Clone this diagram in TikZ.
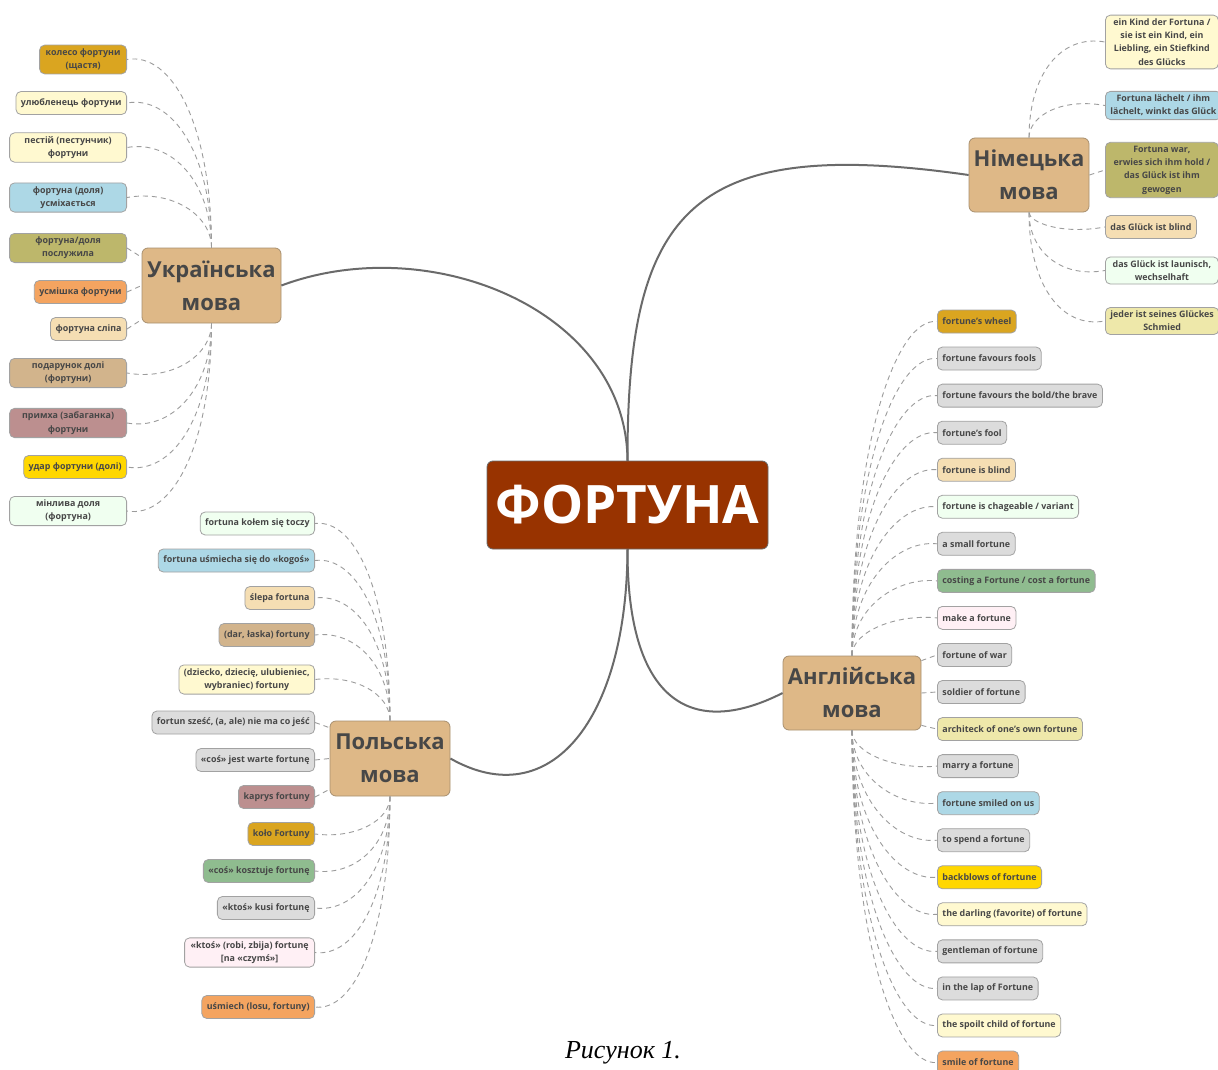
\documentclass[tikz,border=0pt]{standalone}
\usepackage{fontspec}
\setmainfont{Open Sans}
\newfontfamily\capfont{Liberation Serif}
\usetikzlibrary{calc}
\definecolor{txt}{HTML}{474747}
\definecolor{leafborder}{HTML}{A2A2A2}
\definecolor{dashgray}{HTML}{9C9C9C}
\definecolor{maingray}{HTML}{6A6A6A}
\definecolor{branchfill}{HTML}{DEB887}
\definecolor{branchborder}{HTML}{A89070}
\definecolor{centerfill}{HTML}{983300}
\definecolor{cGoldenrod}{HTML}{DAA520}
\definecolor{cLemon}{HTML}{FFF9D0}
\definecolor{cLightblue}{HTML}{ADD8E6}
\definecolor{cKhaki}{HTML}{BDB76B}
\definecolor{cSandy}{HTML}{F4A460}
\definecolor{cWheat}{HTML}{F5DEB3}
\definecolor{cTan}{HTML}{D2B48C}
\definecolor{cRosy}{HTML}{BC8F8F}
\definecolor{cGold}{HTML}{FFD700}
\definecolor{cHoney}{HTML}{F0FFF0}
\definecolor{cPaleGold}{HTML}{EEE8AA}
\definecolor{cGray}{HTML}{DCDCDC}
\definecolor{cSeaGreen}{HTML}{8FBC8F}
\definecolor{cBlush}{HTML}{FFF0F5}
\tikzset{
  leaf/.style={draw=leafborder, line width=0.8pt, rounded corners=5pt,
    font=\fontsize{8.9}{13.3}\selectfont\bfseries, text=txt, align=center,
    inner xsep=5pt, inner ysep=3.5pt, minimum height=23pt},
  branch/.style={draw=branchborder, line width=0.8pt, fill=branchfill, rounded corners=6pt,
    font=\fontsize{22}{33}\selectfont\bfseries, text=txt, align=center},
  dline/.style={draw=dashgray, line width=0.9pt, dash pattern=on 5pt off 4pt},
  mainline/.style={draw=maingray, line width=2pt},
}
\newcommand\conn[4]{\draw[dline] (#1) .. controls ($(#1)!0.65!(#1|-#2)$) and ($(#2)+(#3,#4)$) .. (#2);}
\begin{document}
\begin{tikzpicture}[x=1pt,y=-1pt]
\useasboundingbox[fill=white] (0,0) rectangle (1218,1070);

% main nodes and connectors
\coordinate (ctop) at (627.5,461);
\coordinate (cbot) at (627.5,549);
\node[branch, minimum width=139pt, minimum height=75pt] (ukr) at (211.5,285.5) {Українська\\мова};
\node[branch, minimum width=120pt, minimum height=74pt] (ger) at (1029,175) {Німецька\\мова};
\node[branch, minimum width=138pt, minimum height=74pt] (eng) at (852,693) {Англійська\\мова};
\node[branch, minimum width=120pt, minimum height=75pt] (pol) at (390,758.5) {Польська\\мова};

\draw[mainline] (ctop) .. controls (627,310) and (430,230) .. (ukr.east);
\draw[mainline] (ctop) .. controls (627,210) and (690,135) .. (ger.west);
\draw[mainline] (cbot) .. controls (627,700) and (690,740) .. (eng.west);
\draw[mainline] (cbot) .. controls (627,720) and (550,815) .. (pol.east);

\node[draw=maingray, line width=0.8pt, fill=centerfill, rounded corners=6pt, minimum width=281pt, minimum height=88pt,
  text=white, font=\fontsize{53}{60}\selectfont\bfseries] (fort) at (627.5,505) {ФОРТУНА};

% Ukrainian leaves
\node[leaf, fill=cGoldenrod, anchor=east, minimum width=87pt] (u1) at (127,59.5) {колесо фортуни\\(щастя)};
\node[leaf, fill=cLemon, anchor=east] (u2) at (127,103) {улюбленець фортуни};
\node[leaf, fill=cLemon, anchor=east, minimum width=117pt] (u3) at (127,147.5) {пестій (пестунчик)\\фортуни};
\node[leaf, fill=cLightblue, anchor=east, minimum width=117pt] (u4) at (127,197.5) {фортуна (доля)\\усміхається};
\node[leaf, fill=cKhaki, anchor=east, minimum width=117pt] (u5) at (127,248) {фортуна/доля\\послужила};
\node[leaf, fill=cSandy, anchor=east] (u6) at (127,292) {усмішка фортуни};
\node[leaf, fill=cWheat, anchor=east] (u7) at (127,329) {фортуна сліпа};
\node[leaf, fill=cTan, anchor=east, minimum width=117pt] (u8) at (127,373) {подарунок долі\\(фортуни)};
\node[leaf, fill=cRosy, anchor=east, minimum width=117pt] (u9) at (127,423) {примха (забаганка)\\фортуни};
\node[leaf, fill=cGold, anchor=east] (u10) at (127,467) {удар фортуни (долі)};
\node[leaf, fill=cHoney, anchor=east, minimum width=117pt] (u11) at (127,511) {мінлива доля\\(фортуна)};

\foreach \k in {1,...,4} {\conn{ukr.north}{u\k.east}{45}{-8}}
\draw[dline] (u5.east) -- (ukr.158);
\draw[dline] (u6.east) -- (ukr.west);
\draw[dline] (u7.east) -- (ukr.206);
\foreach \k in {8,...,11} {\conn{ukr.south}{u\k.east}{45}{8}}

% German leaves
\node[leaf, fill=cLemon, anchor=west, minimum width=113pt] (g1) at (1105,42) {ein Kind der Fortuna /\\sie ist ein Kind, ein\\Liebling, ein Stiefkind\\des Glücks};
\node[leaf, fill=cLightblue, anchor=west, minimum width=113pt] (g2) at (1105,105.5) {Fortuna lächelt / ihm\\lächelt, winkt das Glück};
\node[leaf, fill=cKhaki, anchor=west, minimum width=113pt] (g3) at (1105,170) {Fortuna war,\\erwies sich ihm hold /\\das Glück ist ihm\\gewogen};
\node[leaf, fill=cWheat, anchor=west] (g4) at (1105,227) {das Glück ist blind};
\node[leaf, fill=cHoney, anchor=west, minimum width=113pt] (g5) at (1105,270.5) {das Glück ist launisch,\\wechselhaft};
\node[leaf, fill=cPaleGold, anchor=west, minimum width=113pt] (g6) at (1105,321) {jeder ist seines Glückes\\Schmied};

\foreach \k in {1,2} {\conn{ger.north}{g\k.west}{-45}{-8}}
\draw[dline] (ger.east) -- (g3.west);
\foreach \k in {4,5,6} {\conn{ger.south}{g\k.west}{-45}{8}}

% English leaves
\foreach \k/\t/\c in {
 1/fortune's wheel/cGoldenrod,
 2/fortune favours fools/cGray,
 3/fortune favours the bold\slash the brave/cGray,
 4/fortune's fool/cGray,
 5/fortune is blind/cWheat,
 6/fortune is chageable \slash{} variant/cHoney,
 7/a small fortune/cGray,
 8/costing a Fortune \slash{} cost a fortune/cSeaGreen,
 9/make a fortune/cBlush,
 10/fortune of war/cGray,
 11/soldier of fortune/cGray,
 12/architeck of one's own fortune/cPaleGold,
 13/marry a fortune/cGray,
 14/fortune smiled on us/cLightblue,
 15/to spend a fortune/cGray,
 16/backblows of fortune/cGold,
 17/the darling (favorite) of fortune/cLemon,
 18/gentleman of fortune/cGray,
 19/in the lap of Fortune/cGray,
 20/the spoilt child of fortune/cLemon,
 21/smile of fortune/cSandy}
 {\node[leaf, fill=\c, anchor=west] (e\k) at (937,{321.5+(\k-1)*37.05}) {\t};}

\foreach \k in {1,...,9} {\conn{eng.north}{e\k.west}{-40}{-4}}
\draw[dline] (eng.25) -- (e10.west);
\draw[dline] (eng.east) -- (e11.west);
\draw[dline] (eng.335) -- (e12.west);
\foreach \k in {13,...,21} {\conn{eng.south}{e\k.west}{-40}{4}}

% Polish leaves
\node[leaf, fill=cHoney, anchor=east] (p1) at (315,523.5) {fortuna kołem się toczy};
\node[leaf, fill=cLightblue, anchor=east] (p2) at (315,560.5) {fortuna uśmiecha się do «kogoś»};
\node[leaf, fill=cWheat, anchor=east] (p3) at (315,598) {ślepa fortuna};
\node[leaf, fill=cTan, anchor=east] (p4) at (315,635) {(dar, łaska) fortuny};
\node[leaf, fill=cLemon, anchor=east, minimum width=135pt] (p5) at (315,679.5) {(dziecko, dziecię, ulubieniec,\\wybraniec) fortuny};
\node[leaf, fill=cGray, anchor=east] (p6) at (315,722.5) {fortun sześć, (a, ale) nie ma co jeść};
\node[leaf, fill=cGray, anchor=east] (p7) at (315,760) {«coś» jest warte fortunę};
\node[leaf, fill=cRosy, anchor=east] (p8) at (315,797) {kaprys fortuny};
\node[leaf, fill=cGoldenrod, anchor=east] (p9) at (315,834) {koło Fortuny};
\node[leaf, fill=cSeaGreen, anchor=east] (p10) at (315,871) {«coś» kosztuje fortunę};
\node[leaf, fill=cGray, anchor=east] (p11) at (315,908) {«ktoś» kusi fortunę};
\node[leaf, fill=cBlush, anchor=east, minimum width=130pt] (p12) at (315,952.5) {«ktoś» (robi, zbija) fortunę\\{[}na «czymś»{]}};
\node[leaf, fill=cSandy, anchor=east] (p13) at (315,1007) {uśmiech (losu, fortuny)};

\foreach \k in {1,...,5} {\conn{pol.north}{p\k.east}{40}{-5}}
\draw[dline] (p6.east) -- (pol.153);
\draw[dline] (p7.east) -- (pol.west);
\draw[dline] (p8.east) -- (pol.207);
\foreach \k in {9,...,13} {\conn{pol.south}{p\k.east}{40}{5}}

% caption
\node[font=\capfont\itshape\fontsize{26}{30}\selectfont, text=black] (cap) at (623,1053) {Рисунок 1.};
\end{tikzpicture}
\end{document}
